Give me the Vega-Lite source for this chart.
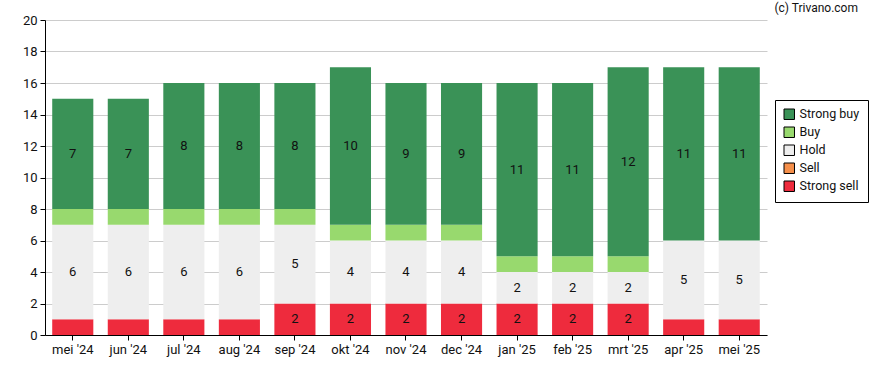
{
  "$schema": "https://vega.github.io/schema/vega-lite/v6.json",
  "width": 722,
  "height": 315,
  "autosize": {"type": "none"},
  "padding": {"left": 45, "top": 20, "right": 121, "bottom": 35},
  "config": {
    "font": "Roboto",
    "view": {"stroke": null},
    "axis": {"labelFont": "Roboto", "labelFontSize": 13, "labelColor": "#111", "domainColor": "#000", "tickColor": "#000", "tickSize": 5}
  },
  "title": {"text": "(c) Trivano.com", "orient": "top", "anchor": "end", "frame": "group", "offset": 5, "dy": 6, "fontSize": 12, "fontWeight": "normal", "font": "Roboto", "color": "#111", "dx": 91},
  "data": {"values": [
    {"month": "mei '24", "category": "Strong sell", "value": 1},
    {"month": "mei '24", "category": "Sell", "value": 0},
    {"month": "mei '24", "category": "Hold", "value": 6},
    {"month": "mei '24", "category": "Buy", "value": 1},
    {"month": "mei '24", "category": "Strong buy", "value": 7},
    {"month": "jun '24", "category": "Strong sell", "value": 1},
    {"month": "jun '24", "category": "Sell", "value": 0},
    {"month": "jun '24", "category": "Hold", "value": 6},
    {"month": "jun '24", "category": "Buy", "value": 1},
    {"month": "jun '24", "category": "Strong buy", "value": 7},
    {"month": "jul '24", "category": "Strong sell", "value": 1},
    {"month": "jul '24", "category": "Sell", "value": 0},
    {"month": "jul '24", "category": "Hold", "value": 6},
    {"month": "jul '24", "category": "Buy", "value": 1},
    {"month": "jul '24", "category": "Strong buy", "value": 8},
    {"month": "aug '24", "category": "Strong sell", "value": 1},
    {"month": "aug '24", "category": "Sell", "value": 0},
    {"month": "aug '24", "category": "Hold", "value": 6},
    {"month": "aug '24", "category": "Buy", "value": 1},
    {"month": "aug '24", "category": "Strong buy", "value": 8},
    {"month": "sep '24", "category": "Strong sell", "value": 2},
    {"month": "sep '24", "category": "Sell", "value": 0},
    {"month": "sep '24", "category": "Hold", "value": 5},
    {"month": "sep '24", "category": "Buy", "value": 1},
    {"month": "sep '24", "category": "Strong buy", "value": 8},
    {"month": "okt '24", "category": "Strong sell", "value": 2},
    {"month": "okt '24", "category": "Sell", "value": 0},
    {"month": "okt '24", "category": "Hold", "value": 4},
    {"month": "okt '24", "category": "Buy", "value": 1},
    {"month": "okt '24", "category": "Strong buy", "value": 10},
    {"month": "nov '24", "category": "Strong sell", "value": 2},
    {"month": "nov '24", "category": "Sell", "value": 0},
    {"month": "nov '24", "category": "Hold", "value": 4},
    {"month": "nov '24", "category": "Buy", "value": 1},
    {"month": "nov '24", "category": "Strong buy", "value": 9},
    {"month": "dec '24", "category": "Strong sell", "value": 2},
    {"month": "dec '24", "category": "Sell", "value": 0},
    {"month": "dec '24", "category": "Hold", "value": 4},
    {"month": "dec '24", "category": "Buy", "value": 1},
    {"month": "dec '24", "category": "Strong buy", "value": 9},
    {"month": "jan '25", "category": "Strong sell", "value": 2},
    {"month": "jan '25", "category": "Sell", "value": 0},
    {"month": "jan '25", "category": "Hold", "value": 2},
    {"month": "jan '25", "category": "Buy", "value": 1},
    {"month": "jan '25", "category": "Strong buy", "value": 11},
    {"month": "feb '25", "category": "Strong sell", "value": 2},
    {"month": "feb '25", "category": "Sell", "value": 0},
    {"month": "feb '25", "category": "Hold", "value": 2},
    {"month": "feb '25", "category": "Buy", "value": 1},
    {"month": "feb '25", "category": "Strong buy", "value": 11},
    {"month": "mrt '25", "category": "Strong sell", "value": 2},
    {"month": "mrt '25", "category": "Sell", "value": 0},
    {"month": "mrt '25", "category": "Hold", "value": 2},
    {"month": "mrt '25", "category": "Buy", "value": 1},
    {"month": "mrt '25", "category": "Strong buy", "value": 12},
    {"month": "apr '25", "category": "Strong sell", "value": 1},
    {"month": "apr '25", "category": "Sell", "value": 0},
    {"month": "apr '25", "category": "Hold", "value": 5},
    {"month": "apr '25", "category": "Buy", "value": 0},
    {"month": "apr '25", "category": "Strong buy", "value": 11},
    {"month": "mei '25", "category": "Strong sell", "value": 1},
    {"month": "mei '25", "category": "Sell", "value": 0},
    {"month": "mei '25", "category": "Hold", "value": 5},
    {"month": "mei '25", "category": "Buy", "value": 0},
    {"month": "mei '25", "category": "Strong buy", "value": 11}
  ]},
  "transform": [
    {"calculate": "indexof(['Strong sell','Sell','Hold','Buy','Strong buy'], datum.category)", "as": "rank"},
    {"stack": "value", "groupby": ["month"], "sort": [{"field": "rank", "order": "ascending"}], "as": ["v0", "v1"]},
    {"calculate": "(datum.v0 + datum.v1) / 2", "as": "mid"}
  ],
  "encoding": {
    "x": {
      "field": "month", "type": "ordinal", "sort": null,
      "scale": {"paddingInner": 0.26, "paddingOuter": 0.13},
      "axis": {"title": null, "labelAngle": 0, "grid": false, "labelPadding": 3}
    }
  },
  "layer": [
    {
      "mark": {"type": "bar"},
      "encoding": {
        "y": {"field": "v0", "type": "quantitative",
          "scale": {"domain": [0, 20]},
          "axis": {"title": null, "values": [0, 2, 4, 6, 8, 10, 12, 14, 16, 18, 20], "labelOverlap": false, "grid": true, "gridColor": "#cccccc", "labelPadding": 3}},
        "y2": {"field": "v1"},
        "color": {
          "field": "category", "type": "nominal",
          "scale": {"domain": ["Strong buy", "Buy", "Hold", "Sell", "Strong sell"], "range": ["#3a9257", "#98d96e", "#eeeeee", "#f58f4a", "#ee2b3d"]},
          "legend": {
            "title": null, "orient": "none", "legendX": 730, "legendY": 80,
            "symbolType": "square", "symbolSize": 110, "symbolStrokeColor": "#000", "symbolStrokeWidth": 1,
            "labelFont": "Roboto", "labelFontSize": 12.5, "labelColor": "#111",
            "strokeColor": "#000", "padding": 8, "rowPadding": 3, "fillColor": "#fff"
          }
        }
      }
    },
    {
      "transform": [{"filter": "datum.value >= 2"}],
      "mark": {"type": "text", "fontSize": 13, "font": "Roboto", "color": "#111", "baseline": "middle"},
      "encoding": {
        "y": {"field": "mid", "type": "quantitative",
          "axis": {"title": null, "values": [0, 2, 4, 6, 8, 10, 12, 14, 16, 18, 20], "labelOverlap": false, "grid": true, "gridColor": "#cccccc", "labelPadding": 3}},
        "text": {"field": "value", "type": "quantitative"}
      }
    }
  ]
}
